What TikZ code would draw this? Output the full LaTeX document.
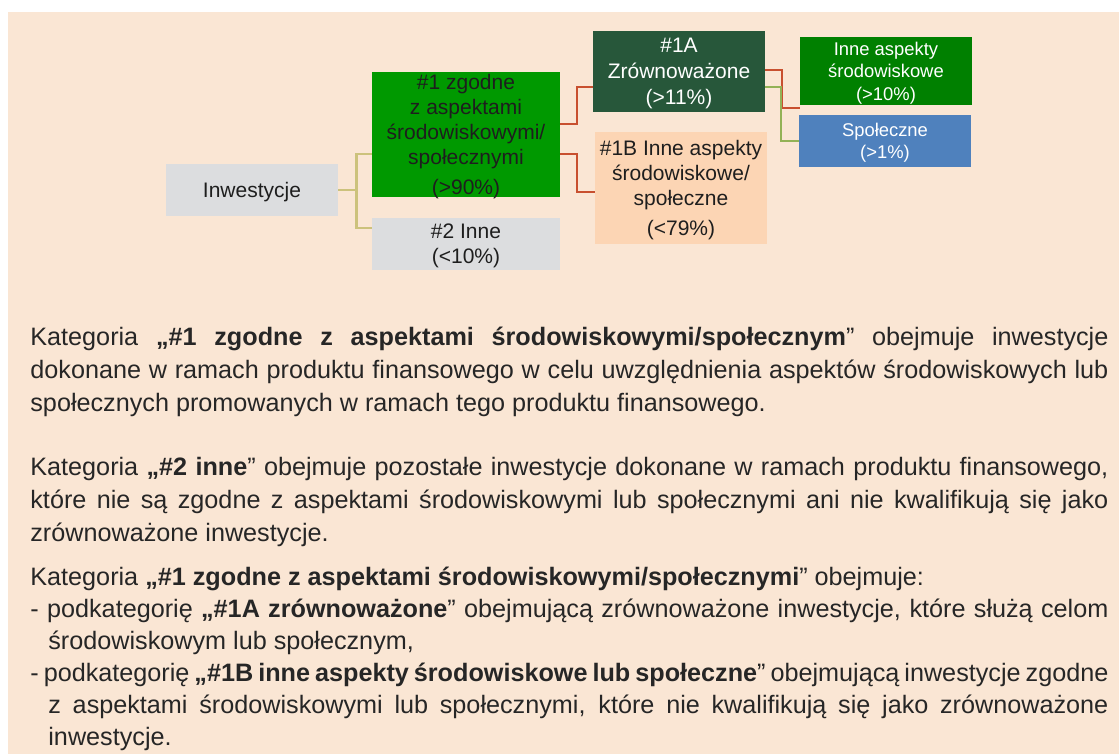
\documentclass[tikz,border=0pt]{standalone}
\usepackage{fontspec}
\setmainfont{Liberation Sans}
\definecolor{bgbeige}{HTML}{FAE6D4}
\definecolor{boxgray}{HTML}{DCDDDF}
\definecolor{boxtext}{HTML}{1E1E1E}
\definecolor{bodygray}{HTML}{262626}
\definecolor{greenmain}{HTML}{009900}
\definecolor{greendark}{HTML}{27573A}
\definecolor{greenenv}{HTML}{008000}
\definecolor{peach}{HTML}{FCD5B4}
\definecolor{bluesoc}{HTML}{4F81BD}
\definecolor{olivelink}{HTML}{CCC27C}
\definecolor{redlink}{HTML}{C8502F}
\definecolor{greenlink}{HTML}{93B256}
\begin{document}
\begin{tikzpicture}[x=0.5pt,y=-0.5pt,
    box/.style={rectangle,inner sep=0pt,minimum width=86pt,align=center,text=boxtext,
      text depth=-0.8pt,font=\fontsize{10.5}{12.5}\selectfont},
    smallbox/.style={box,text=white,text depth=-0.6pt,font=\fontsize{9.2}{11.2}\selectfont},
    trunk/.style={draw=olivelink,line width=1.3pt},
    branch/.style={draw=redlink,line width=1pt},
    leaf/.style={draw=greenlink,line width=1pt},
    bodytext/.style={anchor=base west,inner sep=0pt,text width=539pt,align=justify,
      text=bodygray,font=\fontsize{12.6}{16.5}\selectfont}]
  \useasboundingbox (0,0) rectangle (1119,754);
  \fill[bgbeige] (8,12) rectangle (1119,754);

  % tree
  \path (252,190) node[box,fill=boxgray,minimum height=26pt] (inv) {Inwestycje};
  \path (466,134.5) node[box,fill=greenmain,minimum width=94pt,minimum height=62.5pt] (zg)
    {\#1 zgodne\\z aspektami\\środowiskowymi/\\społecznymi\\[2.5pt](>90\%)};
  \path (466,244) node[box,fill=boxgray,minimum width=94pt,minimum height=26pt] (inne)
    {\#2 Inne\\(<10\%)};
  \path (679,71.5) node[box,fill=greendark,text=white,minimum height=40.5pt,
    font=\fontsize{10.5}{13}\selectfont] (zr)
    {\#1A\\Zrównoważone\\(>11\%)};
  \path (681,188) node[box,fill=peach,minimum height=56pt] (ia)
    {\#1B Inne aspekty\\środowiskowe/\\społeczne\\[2.5pt](<79\%)};
  \path (886,71) node[smallbox,fill=greenenv,minimum height=34pt] (srod)
    {Inne aspekty\\środowiskowe\\(>10\%)};
  \path (885,141) node[smallbox,fill=bluesoc,minimum height=26pt] (spol)
    {Społeczne\\(>1\%)};

  \draw[trunk] (inv.east) -- ++(18,0) |- ([yshift=-9.75pt]zg.west);
  \draw[trunk] (inv.east) -- ++(18,0) |- ([yshift=8pt]inne.west);
  \draw[branch] ([yshift=5.25pt]zg.east) -- ++(17,0) |- ([yshift=-7.75pt]zr.west);
  \draw[branch] ([yshift=-9.75pt]zg.east) -- ++(17,0) |- ([yshift=-2pt]ia.west);
  \draw[branch] ([yshift=0.75pt]zr.east) -- ++(17,0) |- ([yshift=-1.25pt]srod.south west);
  \draw[leaf] ([yshift=-7.75pt]zr.east) -- ++(16,0) |- (spol.west);

  % description
  \path (30,345) node[bodytext] (opis1) {\hyphenpenalty=10000
    Kategoria \textbf{„\#1 zgodne z aspektami środowiskowymi/społecznym}” obejmuje inwestycje\linebreak
    dokonane w ramach produktu finansowego w celu uwzględnienia aspektów środowiskowych lub\linebreak
    społecznych promowanych w ramach tego produktu finansowego.\par};
  \path (30,475) node[bodytext] (opis2) {\hyphenpenalty=10000
    Kategoria \textbf{„\#2 inne}” obejmuje pozostałe inwestycje dokonane w ramach produktu finansowego,\linebreak
    które nie są zgodne z aspektami środowiskowymi lub społecznymi ani nie kwalifikują się jako\linebreak
    zrównoważone inwestycje.\par};
  \path (30,585) node[bodytext,font=\fontsize{12.6}{16}\selectfont] (opis3) {\hyphenpenalty=10000
    Kategoria \textbf{„\#1 zgodne z aspektami środowiskowymi/społecznymi}” obejmuje:\par
    \hangindent=9pt\hangafter=1
    - podkategorię \textbf{„\#1A zrównoważone}” obejmującą zrównoważone inwestycje, które służą celom\linebreak
    środowiskowym lub społecznym,\par
    \hangindent=9pt\hangafter=1
    - podkategorię \textbf{„\#1B inne aspekty środowiskowe lub społeczne}” obejmującą inwestycje zgodne\linebreak
    z aspektami środowiskowymi lub społecznymi, które nie kwalifikują się jako zrównoważone\linebreak
    inwestycje.\par};
\end{tikzpicture}
\end{document}
